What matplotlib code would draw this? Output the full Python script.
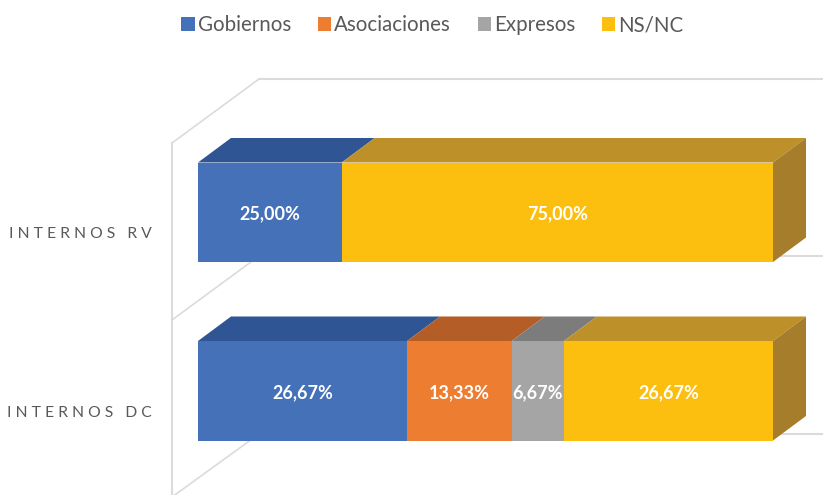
from matplotlib import pyplot as plt
from matplotlib.patches import Patch, Polygon, Rectangle

# chart values, rows from bottom to top
categories = ['I N T E R N O S   D C', 'I N T E R N O S   R V']
series_names = ['Gobiernos', 'Asociaciones', 'Expresos', 'NS/NC']
gobiernos = [26.67, 25.00]
asociaciones = [13.33, 0]
expresos = [6.67, 0]
ns_nc = [26.67, 75.00]
series_values = [gobiernos, asociaciones, expresos, ns_nc]

front_colors = ['#4571B9', '#ED7D31', '#A5A5A5', '#FCBF10']
top_colors = ['#2F5595', '#B55D26', '#7C7C7C', '#BE9029']
side_color = '#A67D2A'
wall_color = '#DEDADA'

plt.rcParams['font.family'] = ['Lato', 'DejaVu Sans']

# axes run in pixels so the oblique 3D faces are easy to place
fig = plt.figure(figsize=(8.23, 4.95), dpi=100)
ax = fig.add_axes([0, 0, 1, 1])
ax.set_xlim(0, 823)
ax.set_ylim(495, 0)
ax.axis('off')

# layout of the fake 3D box
bar_left = 198
bar_width = 575
bar_height = 99.5
bar_tops = [341, 162.5]
depth_x = 33
depth_y = 24.5
wall_x = 172
back_x = 259
wall_ys = [143, 320, 497]
back_ys = [79, 256, 434]

# walls and gridlines
ax.plot([wall_x, wall_x], [wall_ys[0], wall_ys[2]], color=wall_color, lw=1.5, zorder=1)
for wall_y, back_y in zip(wall_ys, back_ys):
    ax.plot([wall_x, back_x], [wall_y, back_y], color=wall_color, lw=1.2, zorder=1)
    ax.plot([back_x, 823], [back_y, back_y], color=wall_color, lw=1.5, zorder=1)

# stacked bars, each row scaled to the full width
for row, top in enumerate(bar_tops):
    row_total = sum(values[row] for values in series_values)
    x = bar_left
    for s, values in enumerate(series_values):
        if values[row] == 0:
            continue
        w = values[row] / row_total * bar_width
        ax.add_patch(Rectangle((x, top), w, bar_height, fc=front_colors[s], ec='none', zorder=3))
        ax.add_patch(Polygon([(x, top), (x + depth_x, top - depth_y),
                              (x + w + depth_x, top - depth_y), (x + w, top)],
                             fc=top_colors[s], ec='none', zorder=2))
        label = f'{values[row]:.2f}%'.replace('.', ',')
        ax.text(x + w / 2, top + bar_height / 2 + 2, label, color='white', fontsize=13,
                fontweight='bold', ha='center', va='center', zorder=4)
        x += w
    # right end of the bar
    ax.add_patch(Polygon([(x, top), (x + depth_x, top - depth_y),
                          (x + depth_x, top + bar_height - depth_y), (x, top + bar_height)],
                         fc=side_color, ec='none', zorder=2))
    ax.text(152, top + bar_height / 2 + 22, categories[row], color='#595959', fontsize=11.3,
            ha='right', va='center')

handles = [Patch(fc=c, ec='none', label=n) for c, n in zip(front_colors, series_names)]
ax.legend(handles=handles, ncol=4, loc='center', bbox_to_anchor=(432.5 / 823, 1 - 25 / 495),
          frameon=False, fontsize=14.8, labelcolor='#595959', handlelength=0.65, handleheight=0.65,
          handletextpad=0.15, columnspacing=1.3)

plt.savefig('out.png', dpi=100)
